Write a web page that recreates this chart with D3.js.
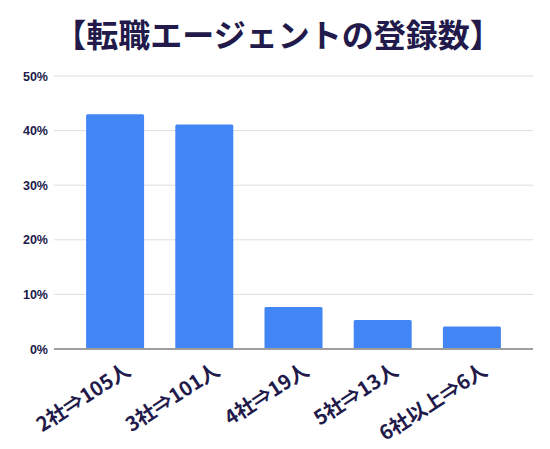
<!DOCTYPE html>
<html>
<head>
<meta charset="utf-8">
<script src="https://cdn.jsdelivr.net/npm/d3@7"></script>
<style>
  body { margin: 0; background: #fff; }
  text { font-family: "Noto Sans CJK JP", "Noto Sans", sans-serif; }
</style>
</head>
<body>
<svg id="chart"></svg>
<script>
const categories = ["2社⇒105人", "3社⇒101人", "4社⇒19人", "5社⇒13人", "6社以上⇒6人"];
const values = [43.0, 41.1, 7.7, 5.3, 4.1];
const yTicks = [0, 10, 20, 30, 40, 50];
const title = "【転職エージェントの登録数】";

(function(){
	const W = 550, H = 449;
	const MARGIN = { top: 76, right: 17, bottom: 100, left: 54 };
	const width = W - MARGIN.left - MARGIN.right;
	const height = H - MARGIN.top - MARGIN.bottom;
	const INK = "#211a4a";

	var svg = d3.select("#chart").attr("width", W).attr("height", H);

	svg.append("text")
		.attr("x", W / 2 + 3)
		.attr("y", 47)
		.attr("text-anchor", "middle")
		.attr("font-size", 32)
		.attr("font-weight", "bold")
		.attr("fill", INK)
		.text(title);

	var g = svg.append("g")
		.attr("transform", "translate(" + MARGIN.left + "," + MARGIN.top + ")");

	var x = d3.scaleBand().domain(categories).range([0, width])
		.paddingInner(0.35).paddingOuter(0.36);
	var y = d3.scaleLinear().domain([0, 50]).range([height, 0]);

	// grid
	g.selectAll(".grid").data(yTicks.slice(1)).enter()
		.append("line")
		.attr("x1", 0).attr("x2", width)
		.attr("y1", d => y(d)).attr("y2", d => y(d))
		.attr("stroke", "#dedede").attr("stroke-width", 1);

	// y labels
	g.append("g")
		.call(d3.axisLeft(y).tickValues(yTicks).tickFormat(d => d + "%").tickSize(0).tickPadding(6))
		.call(s => s.select(".domain").remove())
		.selectAll("text")
			.attr("font-size", 12.5)
			.attr("font-weight", "bold")
			.attr("fill", INK)
			.style("font-family", "Liberation Sans, Arial, sans-serif");

	// bars
	g.selectAll("rect").data(values).enter()
		.append("rect")
		.attr("x", (d, i) => x(categories[i]))
		.attr("y", d => y(d))
		.attr("width", x.bandwidth())
		.attr("height", d => height - y(d))
		.attr("rx", 1.5)
		.attr("fill", "#4285f4");

	// baseline
	g.append("line")
		.attr("x1", 0).attr("x2", width)
		.attr("y1", height).attr("y2", height)
		.attr("stroke", "#9e9e9e").attr("stroke-width", 2);

	// x labels
	g.append("g")
		.attr("transform", "translate(0," + height + ")")
		.call(d3.axisBottom(x).tickSize(0).tickPadding(0))
		.call(s => s.select(".domain").remove())
		.selectAll("text")
			.attr("font-size", 20)
			.attr("font-weight", "bold")
			.attr("fill", INK)
			.attr("text-anchor", "end")
			.attr("dy", 0)
			.attr("transform", "translate(17,25) rotate(-33)");
})();
</script>
</body>
</html>
